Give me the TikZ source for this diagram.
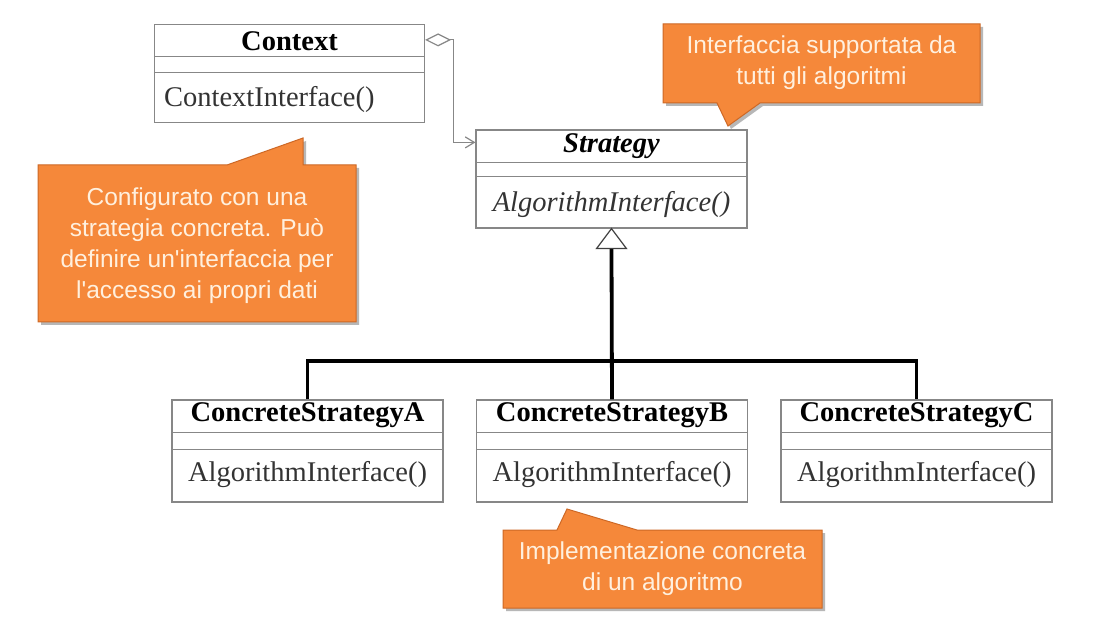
\documentclass[tikz,border=0pt]{standalone}
\usepackage{fontspec}
\setmainfont{Liberation Serif}
\newfontfamily\notefont{Liberation Sans}
\usetikzlibrary{arrows.meta,shadows,calc}
\definecolor{boxgrey}{RGB}{135,135,135}
\definecolor{noteorange}{RGB}{245,136,58}
\definecolor{noteedge}{RGB}{205,104,38}
\definecolor{notetext}{RGB}{255,240,222}
\begin{document}
\begin{tikzpicture}[x=1pt,y=-1pt,
  umlbox/.style={draw=boxgrey,line width=1.2pt,fill=white,inner sep=0pt},
  sepline/.style={draw=boxgrey,line width=1.2pt},
  clstitle/.style={font=\fontsize{28.5}{30}\selectfont\bfseries,inner sep=0pt},
  clsmeth/.style={font=\fontsize{28.5}{30}\selectfont,inner sep=0pt,text=black!80},
  hier/.style={line width=3.8pt,black},
  notebody/.style={fill=noteorange,draw=noteedge,line width=1pt,
    drop shadow={shadow xshift=3pt,shadow yshift=-3pt,opacity=0.4,fill=black!70}},
  notetxt/.style={font=\notefont\fontsize{24.5}{31}\selectfont,text=notetext,align=center,inner sep=0pt},
]
\useasboundingbox (0,0) rectangle (1104,620);
\fill[white] (0,0) rectangle (1104,620);

% Context
\node[umlbox,minimum width=270pt,minimum height=98pt] (ctx) at (289.5,73.5) {};
\draw[sepline] ($(ctx.north west)+(0,33)$) -- ($(ctx.north east)+(0,33)$);
\draw[sepline] ($(ctx.north west)+(0,49)$) -- ($(ctx.north east)+(0,49)$);
\node[clstitle] (ctxtitle) at ($(ctx.north)+(0,17)$) {Context};
\node[clsmeth,anchor=west] (ctxmeth) at ($(ctx.south west)+(10,-24)$) {ContextInterface()};

% Strategy
\node[umlbox,minimum width=271pt,minimum height=98pt] (strat) at (611.5,179) {};
\draw[sepline] ($(strat.north west)+(0,33)$) -- ($(strat.north east)+(0,33)$);
\draw[sepline] ($(strat.north west)+(0,47)$) -- ($(strat.north east)+(0,47)$);
\node[clstitle,font=\fontsize{28.5}{30}\selectfont\bfseries\itshape] (strattitle) at ($(strat.north)+(0,17)$) {Strategy};
\node[clsmeth,font=\fontsize{28.5}{30}\selectfont\itshape] (stratmeth) at ($(strat.south)+(0,-24)$) {AlgorithmInterface()};

% Concrete strategies
\foreach \n/\cx/\t in {A/307.5/ConcreteStrategyA,B/612/ConcreteStrategyB,C/916.5/ConcreteStrategyC}{
  \node[umlbox,minimum width=271pt,minimum height=102pt] (\n) at (\cx,451) {};
  \draw[sepline] ($(\n.north west)+(0,33)$) -- ($(\n.north east)+(0,33)$);
  \draw[sepline] ($(\n.north west)+(0,50)$) -- ($(\n.north east)+(0,50)$);
  \node[clstitle] (\n title) at ($(\n.north)+(0,16)$) {\t};
  \node[clsmeth] (\n meth) at ($(\n.south)+(0,-28)$) {AlgorithmInterface()};
}

% aggregation
\coordinate (aggstart) at ($(ctx.north east)+(0,16)$);
\coordinate (aggend) at ($(strat.north west)+(0,13)$);
\draw[draw=boxgrey,line width=1.2pt,{Diamond[open,length=26pt,width=13pt]}-{Straight Barb[length=9pt,width=11pt]}]
  (aggstart) -- ++(28,0) |- (aggend);

% generalization
\coordinate (bus) at ($(B.north)+(0,-38)$);
\coordinate (tribase) at ($(strat.south)+(0,20)$);
\draw[hier] (A.north) |- (bus) -| (C.north);
\draw[hier] (B.north) -- (tribase);
\draw[line width=1.2pt,draw=black!75,fill=white,line join=miter] (strat.south) -- ($(tribase)+(15,0)$) -- ($(tribase)+(-15,0)$) -- cycle;

% notes
\path[notebody] (663,24) -- (980,24) -- (980,103) -- (760,103) -- (728,126) -- (717,103) -- (663,103) -- cycle;
\node[notetxt] (note1) at (821.5,63) {Interfaccia supportata da\\tutti gli algoritmi};

\path[notebody] (38,165) -- (227,165) -- (303,138) -- (303,165) -- (356,165) -- (356,322) -- (38,322) -- cycle;
\node[notetxt] (note2) at (197,246) {Configurato con una\\strategia concreta. Può\\definire un\symbol{39}interfaccia per\\l\symbol{39}accesso ai propri dati};

\path[notebody] (503,530) -- (557,530) -- (567,509) -- (637,530) -- (822,530) -- (822,608) -- (503,608) -- cycle;
\node[notetxt] (note3) at (662.5,569) {Implementazione concreta\\di un algoritmo};
\end{tikzpicture}
\end{document}
